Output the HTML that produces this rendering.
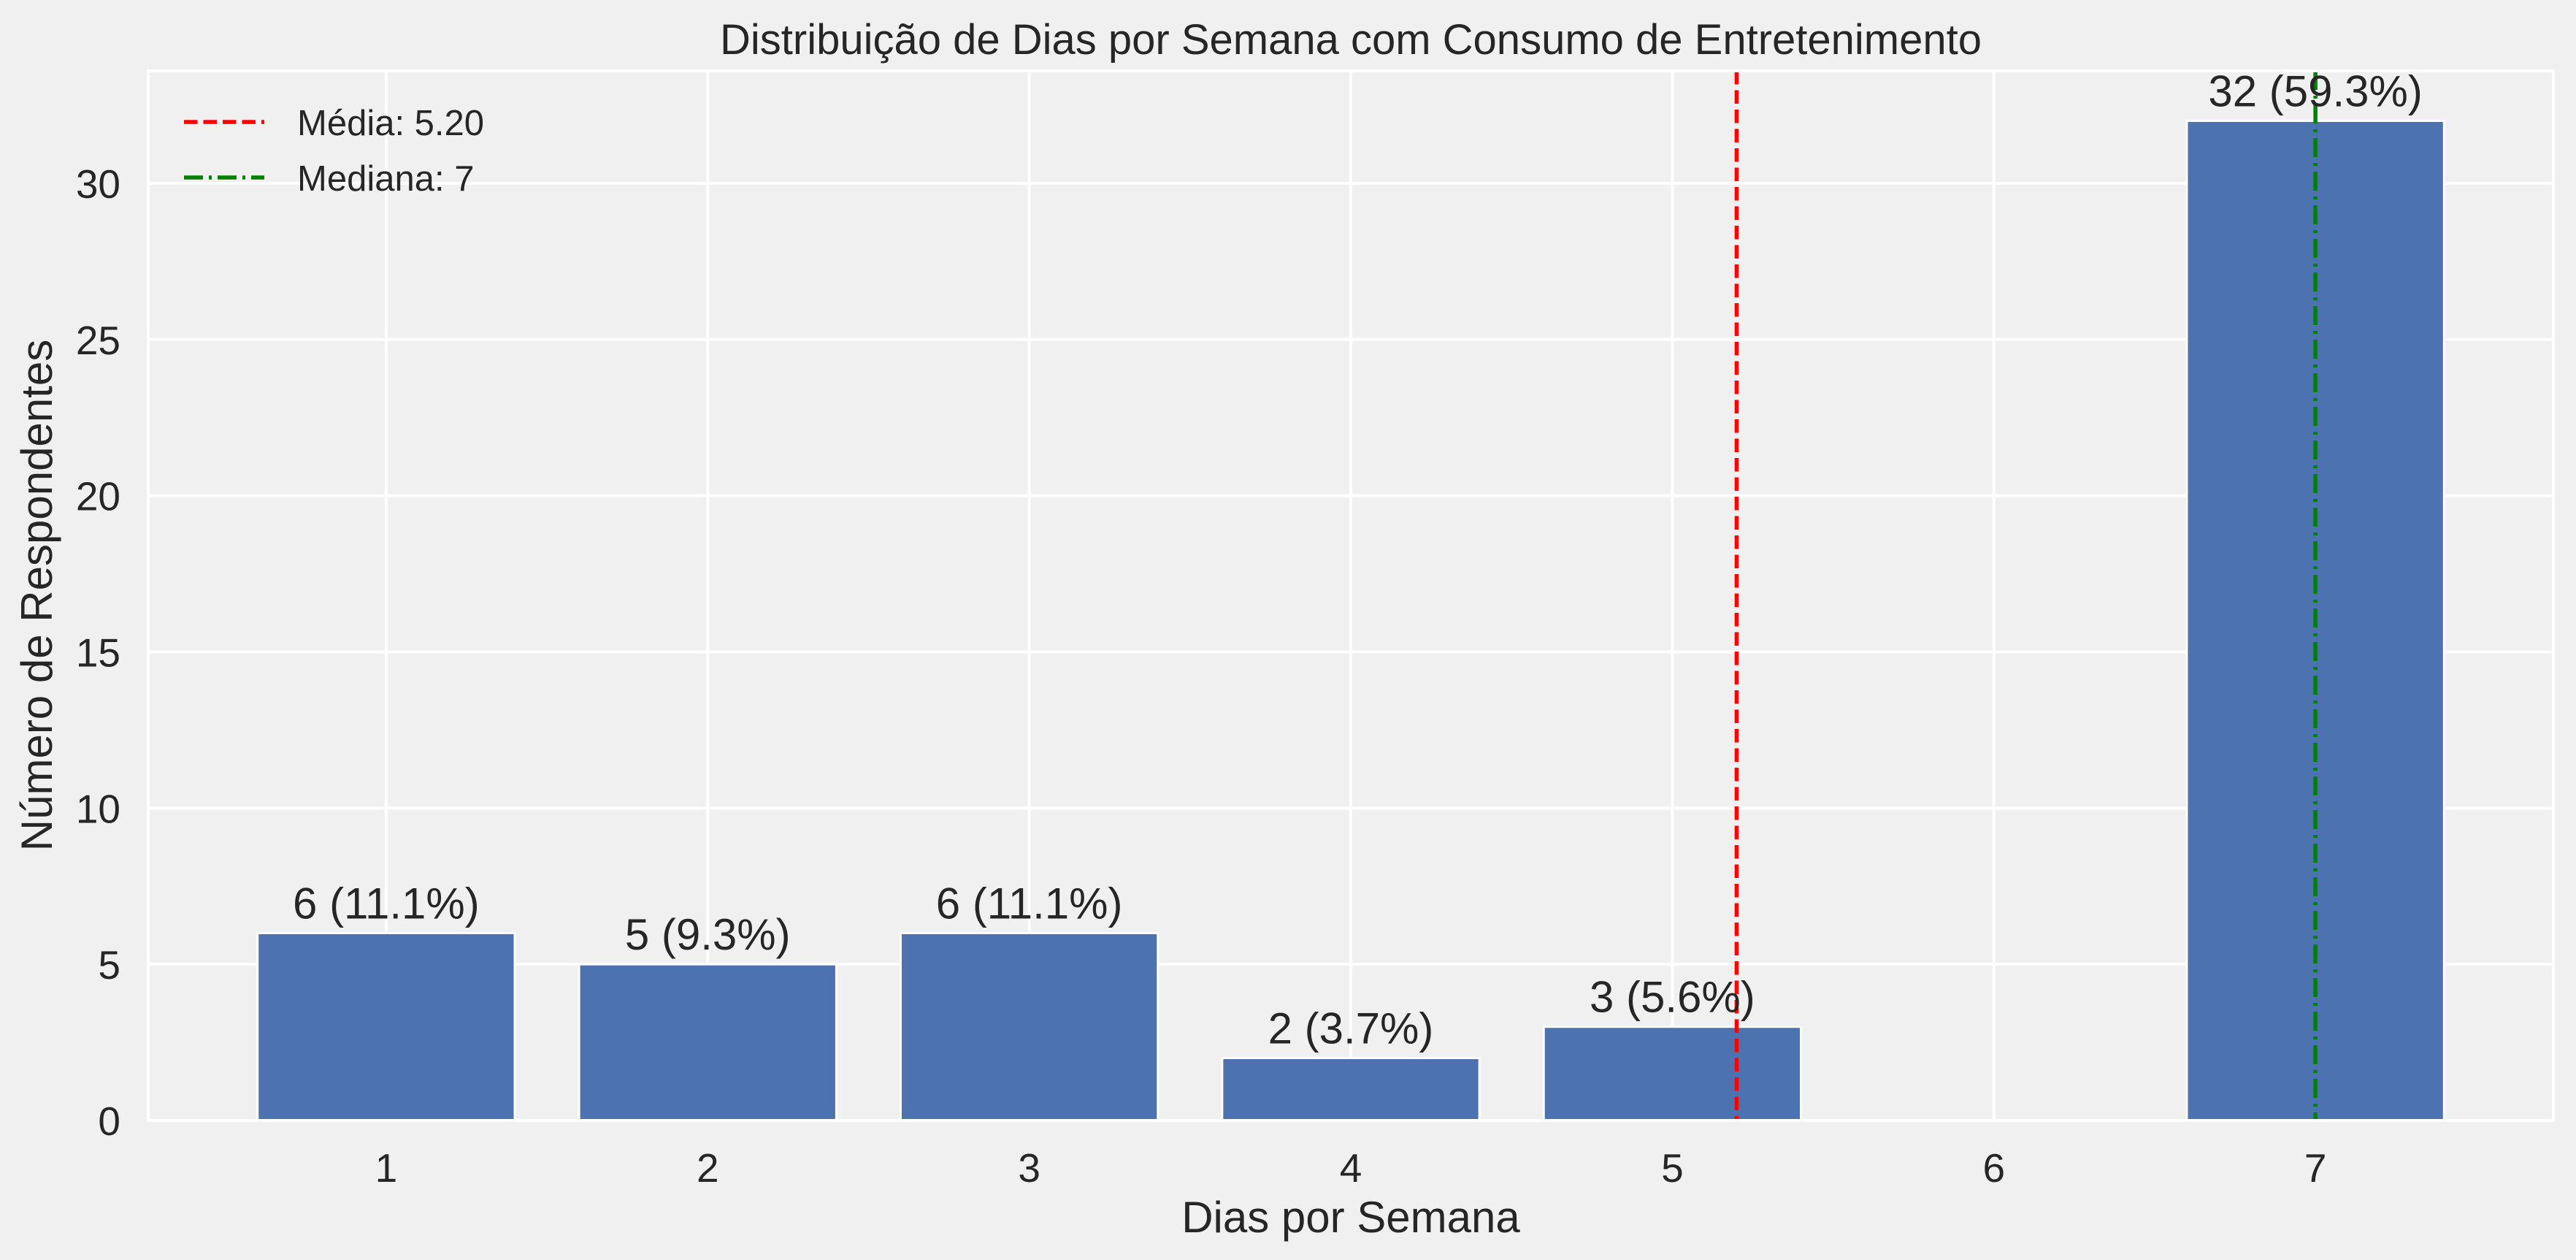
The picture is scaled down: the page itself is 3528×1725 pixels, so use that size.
<!DOCTYPE html>
<html><head><meta charset="utf-8">
<style>
html,body{margin:0;padding:0;background:#f0f0f0;}
svg{display:block;font-family:"Liberation Sans",sans-serif;}
</style></head>
<body>
<svg id="chart" width="3528" height="1725" viewBox="0 0 3528 1725" xmlns="http://www.w3.org/2000/svg">
<rect x="0" y="0" width="3528" height="1725" fill="#f0f0f0"/>
<g id="grid"></g>
<g id="bars"></g>
<g id="lines"></g>
<g id="labels"></g>
<rect x="203" y="97" width="3294" height="1437" fill="none" stroke="#ffffff" stroke-width="4"/>
<text x="1850" y="74" font-size="58" text-anchor="middle" fill="#262626">Distribuição de Dias por Semana com Consumo de Entretenimento</text>
<text x="1850" y="1687" font-size="60" text-anchor="middle" fill="#262626">Dias por Semana</text>
<text x="0" y="0" font-size="60" text-anchor="middle" fill="#262626" transform="translate(71,815) rotate(-90)">Número de Respondentes</text>
<g>
<line x1="252" y1="167" x2="362" y2="167" stroke="#ff0000" stroke-width="5.5" stroke-dasharray="18.5,8"/>
<text x="407" y="185" font-size="49" fill="#262626">Média: 5.20</text>
<line x1="252" y1="243" x2="362" y2="243" stroke="#008000" stroke-width="5.5" stroke-dasharray="26,8,4,8"/>
<text x="407" y="261" font-size="49" fill="#262626">Mediana: 7</text>
</g>
</svg>
<script>
const categories = [1, 2, 3, 4, 5, 6, 7];
const counts = [6, 5, 6, 2, 3, 0, 32];
const pctLabels = ["11.1%", "9.3%", "11.1%", "3.7%", "5.6%", "0.0%", "59.3%"];
const yTicks = [0, 5, 10, 15, 20, 25, 30];
const meanValue = 5.20;
const medianValue = 7;

const L = 203, R = 3497, T = 97, B = 1534;
const xMin = 0.26, xMax = 7.74, yMax = 33.6;
const NS = "http://www.w3.org/2000/svg";
function sx(v){ return L + (v - xMin) / (xMax - xMin) * (R - L); }
function sy(v){ return B - v / yMax * (B - T); }
function mk(tag, attrs, parent){
  const e = document.createElementNS(NS, tag);
  for (const k in attrs) e.setAttribute(k, attrs[k]);
  parent.appendChild(e);
  return e;
}
const grid = document.getElementById('grid');
const bars = document.getElementById('bars');
const lines = document.getElementById('lines');
const labels = document.getElementById('labels');

yTicks.forEach(t => {
  const g = mk('line', {x1: L, x2: R, y1: sy(t), y2: sy(t), stroke: '#ffffff', 'stroke-width': 4}, grid);
  
  
  const tx = mk('text', {x: 165, y: sy(t) + 20, 'font-size': 55, 'text-anchor': 'end', fill: '#262626'}, grid);
  tx.textContent = t;
  
  
});
categories.forEach(c => {
  const g = mk('line', {x1: sx(c), x2: sx(c), y1: T, y2: B, stroke: '#ffffff', 'stroke-width': 4}, grid);
  
  
  const tx = mk('text', {x: sx(c), y: 1618, 'font-size': 55, 'text-anchor': 'middle', fill: '#262626'}, grid);
  tx.textContent = c;
  
  
});
categories.forEach((c, i) => {
  const v = counts[i];
  if (v <= 0) return;
  const x0 = sx(c - 0.4), x1 = sx(c + 0.4);
  const b = mk('rect', {x: x0, y: sy(v), width: x1 - x0, height: B - sy(v), fill: '#4c72b0', stroke: '#ffffff', 'stroke-width': 3}, bars);
  
  
  const t = mk('text', {x: sx(c), y: sy(v) - 20, 'font-size': 60, 'text-anchor': 'middle', fill: '#262626'}, labels);
  t.textContent = v + ' (' + pctLabels[i] + ')';
  
  
});
const ml = mk('line', {x1: sx(meanValue), x2: sx(meanValue), y1: T, y2: B, stroke: '#ff0000', 'stroke-width': 5.5, 'stroke-dasharray': '18.5,8'}, lines);


const dl = mk('line', {x1: sx(medianValue), x2: sx(medianValue), y1: T, y2: B, stroke: '#008000', 'stroke-width': 5.5, 'stroke-dasharray': '26,8,4,8'}, lines);


</script>
</body></html>
